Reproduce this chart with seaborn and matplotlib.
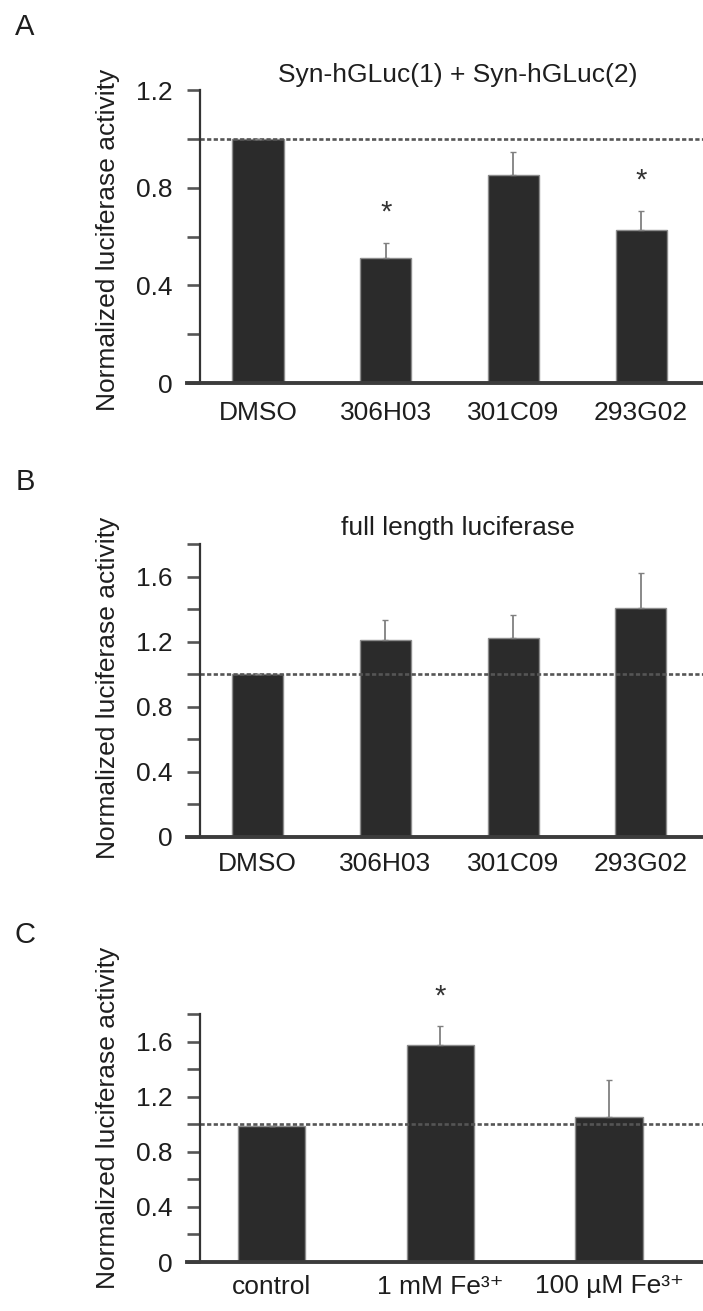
import numpy as np
import matplotlib
matplotlib.use("Agg")
import matplotlib.pyplot as plt
import seaborn as sns

# ---------------- data ----------------
cats_ab = ["DMSO", "306H03", "301C09", "293G02"]
a_vals = [1.0, 0.51, 0.85, 0.625]
a_err = [0.0, 0.065, 0.095, 0.08]
a_star = [None, 0.70, None, 0.83]

b_vals = [1.0, 1.21, 1.22, 1.405]
b_err = [0.0, 0.125, 0.145, 0.215]

cats_c = ["control", "1 mM Fe³⁺", "100 µM Fe³⁺"]
c_vals = [0.985, 1.575, 1.055]
c_err = [0.0, 0.14, 0.265]
c_star = [None, 1.93, None]

titles = ["Syn-hGLuc(1) + Syn-hGLuc(2)", "full length luciferase", None]
letters = ["A", "B", "C"]
ylabel = "Normalized luciferase activity"

a_ticks = [0, 0.2, 0.4, 0.6, 0.8, 1.0, 1.2]
a_ticklabels = ["0", "", "0.4", "", "0.8", "", "1.2"]
bc_ticks = [0, 0.2, 0.4, 0.6, 0.8, 1.0, 1.2, 1.4, 1.6, 1.8]
bc_ticklabels = ["0", "", "0.4", "", "0.8", "", "1.2", "", "1.6", ""]

# ---------------- style ----------------
sns.set_theme(style="white")
plt.rcParams["font.family"] = ["Liberation Sans", "DejaVu Sans"]

W, H = 703, 1311
fig = plt.figure(figsize=(W / 100, H / 100), dpi=100)

BAR = "#2b2b2b"
EDGE = "#8c8c8c"
SPINE = "#333333"
TXT = "#1e1e1e"


def px_axes(left, top, right, bottom):
    return fig.add_axes([left / W, 1 - bottom / H, (right - left) / W, (bottom - top) / H])


panels = [
    dict(cats=cats_ab, vals=a_vals, err=a_err, star=a_star, ylim=1.2,
         ticks=a_ticks, tl=a_ticklabels, box=(187, 90, 703, 383),
         centers=(258, 127.7), title_y=75, letter_y=27, ylab_c=240, xpad=13),
    dict(cats=cats_ab, vals=b_vals, err=b_err, star=[None] * 4, ylim=1.8,
         ticks=bc_ticks, tl=bc_ticklabels, box=(187, 544, 703, 837),
         centers=(257.5, 127.8), title_y=528, letter_y=482, ylab_c=688, xpad=11),
    dict(cats=cats_c, vals=c_vals, err=c_err, star=c_star, ylim=1.8,
         ticks=bc_ticks, tl=bc_ticklabels, box=(187, 1014, 703, 1262),
         centers=(271.5, 168.75), title_y=None, letter_y=935, ylab_c=1118, xpad=9),
]

for i, p in enumerate(panels):
    l, t, r, b = p["box"]
    ax = px_axes(l, t, r, b)
    n = len(p["cats"])
    sns.barplot(x=p["cats"], y=p["vals"], order=p["cats"], color=BAR,
                width=0.4, errorbar=None, edgecolor=EDGE, linewidth=1.0,
                saturation=1, ax=ax)
    for patch in ax.patches:
        patch.set_facecolor(BAR)
    pos = np.arange(n)
    ax.errorbar(pos, p["vals"], yerr=[np.zeros(n), p["err"]], fmt="none",
                ecolor="#808080", elinewidth=1.3, capsize=2, capthick=1.0, zorder=3)

    c0, sp = p["centers"]
    x_left = (l - c0) / sp
    x_right = (r - c0) / sp
    x_spine = (200 - c0) / sp
    ax.set_xlim(x_left, x_right)
    ax.set_ylim(0, p["ylim"])

    # reference line at 1.0
    ax.axhline(1.0, xmin=(200 - l) / (r - l), xmax=1, color="#555555",
               lw=1.9, ls=(0, (1.6, 0.9)), zorder=1)

    # stars
    for k, s in enumerate(p["star"]):
        if s is not None:
            ax.text(k, s, "*", ha="center", va="center", fontsize=21,
                    color="#333333", clip_on=False)

    # spines
    for side in ("top", "right"):
        ax.spines[side].set_visible(False)
    ax.spines["left"].set_position(("data", x_spine))
    ax.spines["left"].set_color(SPINE)
    ax.spines["left"].set_linewidth(1.6)
    ax.spines["bottom"].set_color("#3c3c3c")
    ax.spines["bottom"].set_linewidth(2.8)

    ax.set_yticks(p["ticks"])
    ax.set_yticklabels(p["tl"])
    ax.tick_params(axis="y", direction="out", length=9.5, width=1.9,
                   color="#555555", pad=10, labelsize=19, labelcolor=TXT, left=True)
    ax.tick_params(axis="x", length=0, pad=p["xpad"], labelsize=19, labelcolor=TXT)
    ax.set_xlabel("")

    ax.set_ylabel(ylabel, fontsize=19, color=TXT)
    ax.yaxis.label.set_verticalalignment("center")
    ax.yaxis.set_label_coords((108 - l) / (r - l), (b - p["ylab_c"]) / (b - t))

    if titles[i] is not None:
        ax.text((458 - l) / (r - l), (b - p["title_y"]) / (b - t), titles[i],
                transform=ax.transAxes, ha="center", va="center",
                fontsize=19, color=TXT)

    fig.text(25 / W, 1 - p["letter_y"] / H, letters[i], ha="center", va="center",
             fontsize=21, color=TXT)

fig.savefig("out.png", dpi=100)
